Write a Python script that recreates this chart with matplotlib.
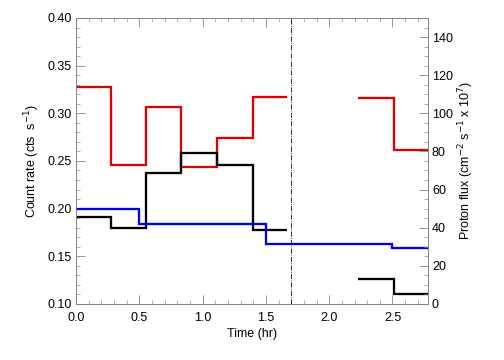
import numpy as np
import matplotlib.pyplot as plt
from matplotlib.ticker import MultipleLocator

plt.rcParams['font.family'] = ['Liberation Sans', 'DejaVu Sans']

# count rate bins (hr) and values (cts/s)
edges_a = [0.0, 0.277, 0.553, 0.83, 1.11, 1.394, 1.665]
red_a = [0.328, 0.246, 0.307, 0.244, 0.274, 0.317]
black_a = [0.191, 0.180, 0.237, 0.258, 0.246, 0.177]

edges_b = [2.23, 2.51, 2.78]
red_b = [0.316, 0.261]
black_b = [0.126, 0.110]

# proton flux (cm^-2 s^-1 x 10^7)
edges_p = [0.0, 0.5, 1.5, 2.5, 2.78]
flux = [50, 42, 31.5, 29.5]

t_mark = 1.70

fig = plt.figure(figsize=(7, 5), dpi=72)
ax = fig.add_axes([0.151, 0.156, 0.698, 0.794])
ax2 = ax.twinx()

lw = 2.3
ax.stairs(red_a, edges_a, baseline=None, color='#e00000', lw=lw)
ax.stairs(red_b, edges_b, baseline=None, color='#e00000', lw=lw)
ax.stairs(black_a, edges_a, baseline=None, color='black', lw=lw)
ax.stairs(black_b, edges_b, baseline=None, color='black', lw=lw)
ax2.stairs(flux, edges_p, baseline=None, color='#0000e0', lw=lw)
ax.axvline(t_mark, color='black', lw=0.8, ls='-.')

ax.set_xlim(0, 2.78)
ax.set_ylim(0.10, 0.40)
ax2.set_ylim(0, 150)

ax.xaxis.set_major_locator(MultipleLocator(0.5))
ax.xaxis.set_minor_locator(MultipleLocator(0.1))
ax.yaxis.set_major_locator(MultipleLocator(0.05))
ax.yaxis.set_minor_locator(MultipleLocator(0.01))
ax2.yaxis.set_major_locator(MultipleLocator(20))
ax2.yaxis.set_minor_locator(MultipleLocator(5))
ax.xaxis.set_major_formatter(plt.FormatStrFormatter('%.1f'))
ax.yaxis.set_major_formatter(plt.FormatStrFormatter('%.2f'))

for a in (ax, ax2):
    for s in a.spines.values():
        s.set_color('#808080')
        s.set_linewidth(0.8)
ax.tick_params(which='both', direction='in', top=True, color='#808080', labelsize=12.5)
ax.tick_params(which='major', length=9)
ax.tick_params(which='minor', length=4)
ax.tick_params(axis='x', pad=8)
ax.tick_params(axis='y', pad=4)
ax2.tick_params(which='both', direction='in', color='#808080', labelsize=12.5, pad=4)
ax2.tick_params(which='major', length=9)
ax2.tick_params(which='minor', length=4)

ax.set_xlabel('Time (hr)', fontsize=12.5, labelpad=4)
ax.set_ylabel('Count rate (cts  s$^{-1}$)', fontsize=12.5, labelpad=6)
ax2.set_ylabel('Proton flux (cm$^{-2}$ s$^{-1}$ x 10$^{7}$)', fontsize=12.5, labelpad=4)

fig.savefig('out.png', dpi=72)
